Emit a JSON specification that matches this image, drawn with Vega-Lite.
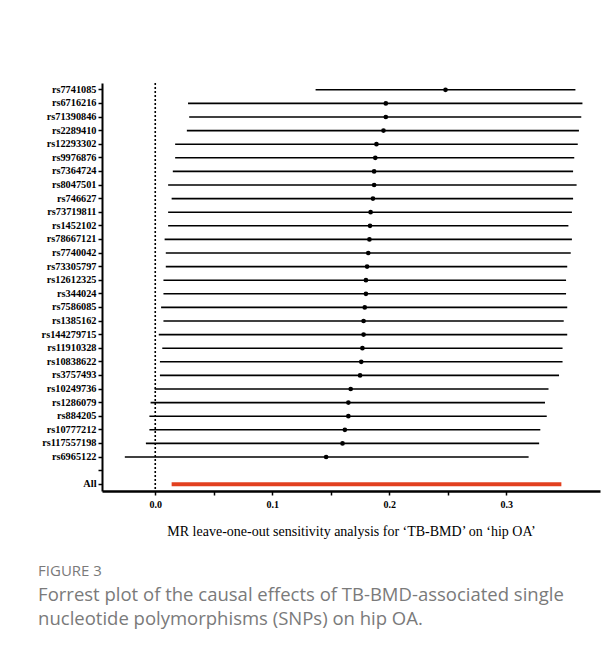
{
  "$schema": "https://vega.github.io/schema/vega-lite/v6.json",
  "width": 498,
  "height": 408,
  "autosize": {"type": "none"},
  "padding": {"left": 102, "top": 83, "right": 16, "bottom": 159},
  "background": "white",
  "config": {"view": {"stroke": null}},
  "datasets": {
    "snps": [
      {"snp": "rs7741085", "b": 0.248, "lo": 0.137, "hi": 0.359},
      {"snp": "rs6716216", "b": 0.197, "lo": 0.028, "hi": 0.365},
      {"snp": "rs71390846", "b": 0.197, "lo": 0.029, "hi": 0.364},
      {"snp": "rs2289410", "b": 0.195, "lo": 0.027, "hi": 0.362},
      {"snp": "rs12293302", "b": 0.189, "lo": 0.017, "hi": 0.361},
      {"snp": "rs9976876", "b": 0.188, "lo": 0.017, "hi": 0.358},
      {"snp": "rs7364724", "b": 0.187, "lo": 0.015, "hi": 0.357},
      {"snp": "rs8047501", "b": 0.187, "lo": 0.011, "hi": 0.36},
      {"snp": "rs746627", "b": 0.186, "lo": 0.014, "hi": 0.357},
      {"snp": "rs73719811", "b": 0.184, "lo": 0.011, "hi": 0.356},
      {"snp": "rs1452102", "b": 0.1835, "lo": 0.011, "hi": 0.353},
      {"snp": "rs78667121", "b": 0.183, "lo": 0.008, "hi": 0.356},
      {"snp": "rs7740042", "b": 0.182, "lo": 0.009, "hi": 0.355},
      {"snp": "rs73305797", "b": 0.181, "lo": 0.009, "hi": 0.352},
      {"snp": "rs12612325", "b": 0.18, "lo": 0.007, "hi": 0.351},
      {"snp": "rs344024", "b": 0.18, "lo": 0.007, "hi": 0.351},
      {"snp": "rs7586085", "b": 0.179, "lo": 0.005, "hi": 0.352},
      {"snp": "rs1385162", "b": 0.178, "lo": 0.007, "hi": 0.349},
      {"snp": "rs144279715", "b": 0.178, "lo": 0.003, "hi": 0.352},
      {"snp": "rs11910328", "b": 0.177, "lo": 0.006, "hi": 0.348},
      {"snp": "rs10838622", "b": 0.176, "lo": 0.004, "hi": 0.348},
      {"snp": "rs3757493", "b": 0.175, "lo": 0.004, "hi": 0.345},
      {"snp": "rs10249736", "b": 0.167, "lo": -0.0005, "hi": 0.336},
      {"snp": "rs1286079", "b": 0.165, "lo": -0.004, "hi": 0.333},
      {"snp": "rs884205", "b": 0.165, "lo": -0.005, "hi": 0.3345},
      {"snp": "rs10777212", "b": 0.162, "lo": -0.005, "hi": 0.329},
      {"snp": "rs117557198", "b": 0.16, "lo": -0.008, "hi": 0.328},
      {"snp": "rs6965122", "b": 0.146, "lo": -0.026, "hi": 0.319},
      {"snp": "All", "b": 0.18, "lo": 0.014, "hi": 0.347}
    ],
    "ref": [{"ref": 0}]
  },
  "title": {
    "text": "FIGURE 3",
    "subtitle": ["Forrest plot of the causal effects of TB-BMD-associated single", "nucleotide polymorphisms (SNPs) on hip OA."],
    "orient": "bottom",
    "anchor": "start",
    "dx": -3,
    "offset": 26,
    "font": "Open Sans",
    "fontSize": 15,
    "fontWeight": "normal",
    "color": "#7a7a7a",
    "subtitleFont": "Open Sans",
    "subtitleFontSize": 18.5,
    "subtitleColor": "#7a7a7a",
    "subtitleLineHeight": 24,
    "subtitlePadding": 7
  },
  "layer": [
    {
      "data": {"name": "ref"},
      "mark": {"type": "rule", "color": "black", "strokeWidth": 1.6, "strokeDash": [2, 2]},
      "encoding": {
        "x": {"field": "ref", "type": "quantitative"}
      }
    },
    {
      "data": {"name": "snps"},
      "transform": [{"filter": "datum.snp !== 'All'"}],
      "mark": {"type": "rule", "color": "black", "strokeWidth": 1.6},
      "encoding": {
        "y": {"field": "snp", "type": "nominal", "sort": null,
          "scale": {"domain": ["rs7741085","rs6716216","rs71390846","rs2289410","rs12293302","rs9976876","rs7364724","rs8047501","rs746627","rs73719811","rs1452102","rs78667121","rs7740042","rs73305797","rs12612325","rs344024","rs7586085","rs1385162","rs144279715","rs11910328","rs10838622","rs3757493","rs10249736","rs1286079","rs884205","rs10777212","rs117557198","rs6965122"," ","All"], "paddingInner": 0, "paddingOuter": 0},
          "axis": {"title": null, "domainColor": "black", "domainWidth": 2, "tickColor": "black", "tickSize": 4, "tickWidth": 1.5, "labelFont": "Liberation Serif", "labelFontWeight": "bold", "labelFontSize": 10.3, "labelColor": "black", "labelPadding": 2}},
        "x": {"field": "lo", "type": "quantitative",
          "scale": {"domain": [-0.0455, 0.38], "nice": false, "zero": false},
          "axis": {"title": "MR leave-one-out sensitivity analysis for \u2018TB-BMD\u2019 on \u2018hip OA\u2019", "values": [0, 0.05, 0.1, 0.15, 0.2, 0.25, 0.3], "labelExpr": "abs(round(datum.value*100) % 10) < 0.5 ? format(datum.value, '.1f') : ''", "grid": false, "domainColor": "black", "domainWidth": 2.5, "tickColor": "black", "tickSize": 4, "tickWidth": 1.5, "labelFont": "Liberation Serif", "labelFontWeight": "bold", "labelFontSize": 10, "labelColor": "black", "labelPadding": 4, "titleFont": "Liberation Serif", "titleFontWeight": "normal", "titleFontSize": 14, "titleColor": "black", "titlePadding": 15}},
        "x2": {"field": "hi"}
      }
    },
    {
      "data": {"name": "snps"},
      "transform": [{"filter": "datum.snp === 'All'"}],
      "mark": {"type": "rule", "color": "#e2401f", "strokeWidth": 4},
      "encoding": {
        "y": {"field": "snp", "type": "nominal", "sort": null},
        "x": {"field": "lo", "type": "quantitative"},
        "x2": {"field": "hi"}
      }
    },
    {
      "data": {"name": "snps"},
      "transform": [{"filter": "datum.snp !== 'All'"}],
      "mark": {"type": "point", "filled": true, "size": 22, "color": "black", "opacity": 1},
      "encoding": {
        "y": {"field": "snp", "type": "nominal", "sort": null},
        "x": {"field": "b", "type": "quantitative"}
      }
    }
  ]
}
